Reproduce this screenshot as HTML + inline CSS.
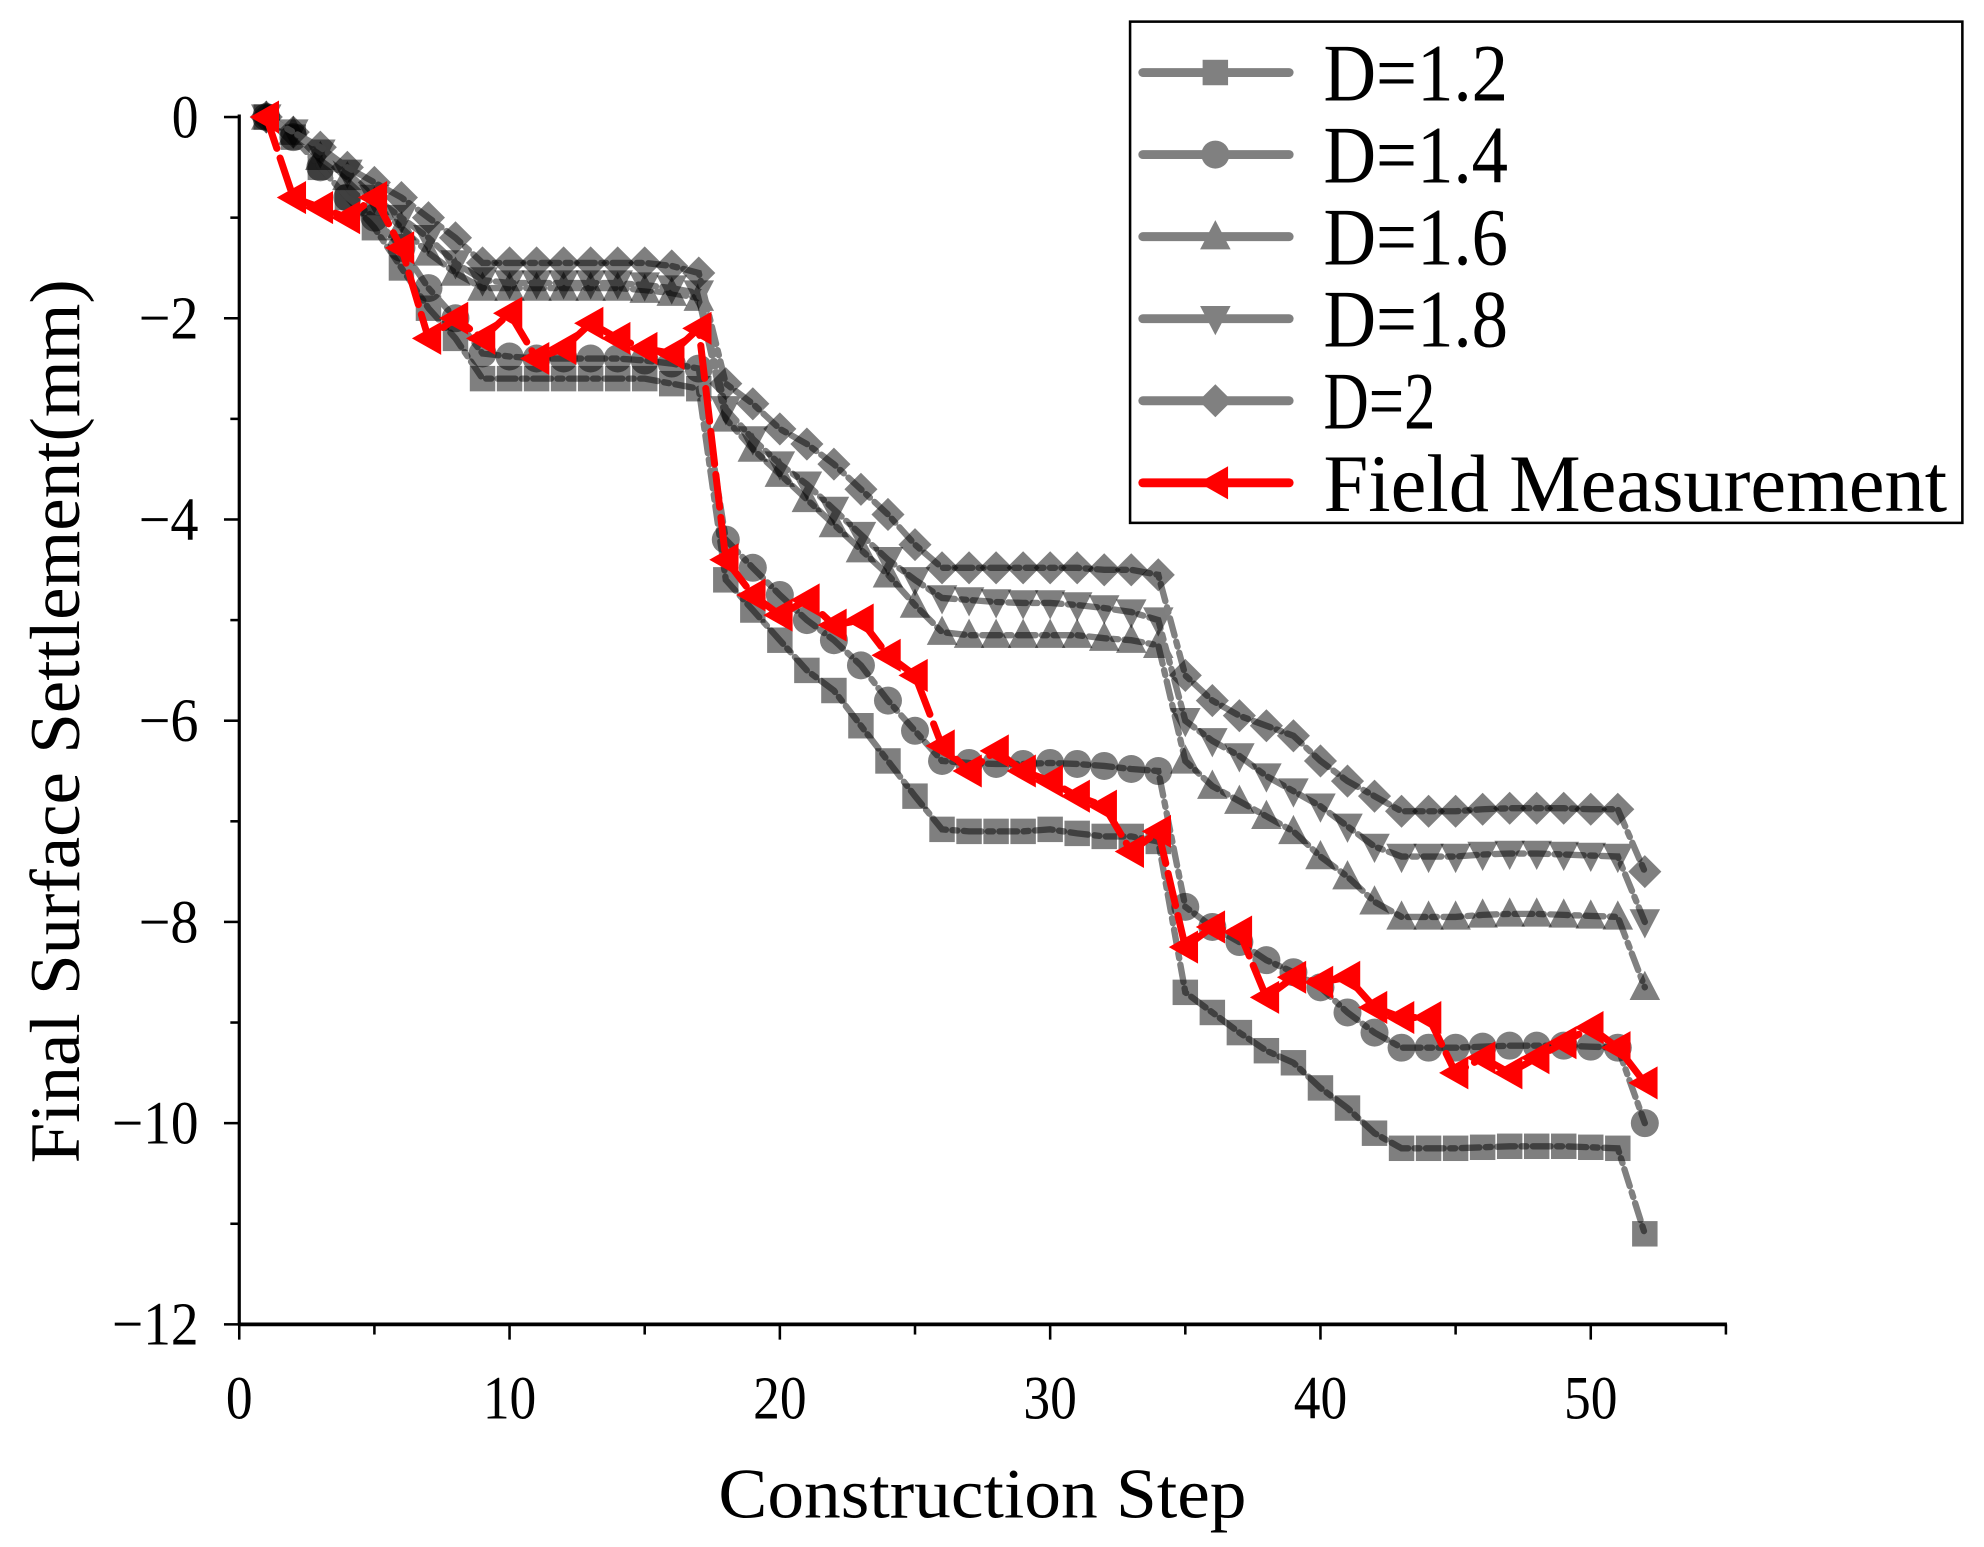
<!DOCTYPE html>
<html><head><meta charset="utf-8"><style>
html,body{margin:0;padding:0;background:#fff;}
svg{display:block;}
</style></head><body>
<svg id="chart" width="1984" height="1547" viewBox="0 0 1559 1216" preserveAspectRatio="none" xmlns="http://www.w3.org/2000/svg">
<g id="plot"></g>
<g id="axes"></g>
<text x="0" y="0" transform="translate(62,567) rotate(-90)" text-anchor="middle" font-family="Liberation Serif, serif" font-size="56" textLength="695" lengthAdjust="spacingAndGlyphs">Final Surface Settlement(mm)</text>
<text x="772" y="1193" text-anchor="middle" font-family="Liberation Serif, serif" font-size="56" textLength="415" lengthAdjust="spacingAndGlyphs">Construction Step</text>
<g id="legend"></g>
</svg>
<script>
const steps = Array.from({length:52},(_,i)=>i+1);
const d12 = [0,-0.2,-0.5,-0.8,-1.1,-1.5,-1.9,-2.2,-2.6,-2.6,-2.6,-2.6,-2.6,-2.6,-2.6,-2.65,-2.7,-4.6,-4.9,-5.2,-5.5,-5.7,-6.05,-6.4,-6.75,-7.08,-7.1,-7.1,-7.1,-7.08,-7.12,-7.15,-7.15,-7.2,-8.7,-8.9,-9.1,-9.28,-9.4,-9.65,-9.85,-10.1,-10.25,-10.25,-10.25,-10.24,-10.23,-10.23,-10.23,-10.24,-10.25,-11.1];
const d14 = [0,-0.2,-0.5,-0.8,-1.0,-1.3,-1.7,-2.0,-2.35,-2.38,-2.4,-2.4,-2.4,-2.4,-2.42,-2.45,-2.5,-4.2,-4.48,-4.75,-5.0,-5.2,-5.45,-5.8,-6.1,-6.4,-6.42,-6.43,-6.43,-6.42,-6.43,-6.45,-6.48,-6.5,-7.85,-8.05,-8.2,-8.38,-8.5,-8.65,-8.9,-9.1,-9.25,-9.25,-9.25,-9.24,-9.23,-9.23,-9.23,-9.24,-9.25,-10.0];
const d16 = [0,-0.15,-0.4,-0.6,-0.85,-1.1,-1.35,-1.55,-1.7,-1.7,-1.7,-1.7,-1.7,-1.7,-1.72,-1.75,-1.8,-3.0,-3.3,-3.55,-3.8,-4.05,-4.3,-4.55,-4.85,-5.12,-5.15,-5.15,-5.15,-5.15,-5.15,-5.18,-5.2,-5.25,-6.4,-6.65,-6.8,-6.95,-7.1,-7.35,-7.55,-7.8,-7.95,-7.95,-7.95,-7.93,-7.92,-7.92,-7.93,-7.94,-7.95,-8.65];
const d18 = [0,-0.15,-0.35,-0.55,-0.8,-1.0,-1.2,-1.45,-1.62,-1.65,-1.65,-1.65,-1.65,-1.65,-1.67,-1.7,-1.75,-2.9,-3.2,-3.45,-3.65,-3.9,-4.15,-4.4,-4.6,-4.78,-4.8,-4.82,-4.83,-4.83,-4.85,-4.88,-4.92,-5.0,-6.0,-6.2,-6.35,-6.55,-6.7,-6.85,-7.05,-7.25,-7.35,-7.35,-7.35,-7.33,-7.32,-7.32,-7.33,-7.34,-7.35,-8.0];
const d20 = [0,-0.15,-0.3,-0.5,-0.65,-0.8,-1.0,-1.2,-1.45,-1.45,-1.45,-1.45,-1.45,-1.45,-1.45,-1.48,-1.55,-2.65,-2.85,-3.1,-3.25,-3.45,-3.7,-3.95,-4.25,-4.48,-4.48,-4.48,-4.48,-4.48,-4.48,-4.5,-4.5,-4.55,-5.55,-5.8,-5.95,-6.05,-6.15,-6.4,-6.6,-6.75,-6.9,-6.9,-6.9,-6.88,-6.87,-6.87,-6.87,-6.88,-6.88,-7.5];
const field = [0,-0.8,-0.9,-1.0,-0.8,-1.3,-2.2,-2.0,-2.2,-1.95,-2.4,-2.3,-2.05,-2.2,-2.3,-2.35,-2.1,-4.4,-4.75,-4.95,-4.8,-5.05,-5.0,-5.35,-5.55,-6.25,-6.5,-6.3,-6.5,-6.6,-6.75,-6.85,-7.3,-7.1,-8.25,-8.05,-8.1,-8.75,-8.55,-8.6,-8.55,-8.85,-8.95,-8.95,-9.5,-9.35,-9.5,-9.35,-9.2,-9.05,-9.25,-9.6];
const xTicks = [0,10,20,30,40,50];
const yTicks = [0,-2,-4,-6,-8,-10,-12];
const seriesNames = ["D=1.2","D=1.4","D=1.6","D=1.8","D=2","Field Measurement"];

const NS="http://www.w3.org/2000/svg";
const X0=188, X1=1357, Y0=92, Y1=1041;
const xs = v => X0 + v*(1250-188)/50;
const ys = v => Y0 + (-v)*(Y1-Y0)/12;
function mk(tag, attrs, parent){const e=document.createElementNS(NS,tag);for(const k in attrs)e.setAttribute(k,attrs[k]);parent.appendChild(e);return e;}
const plot=document.getElementById('plot'), axes=document.getElementById('axes'), legend=document.getElementById('legend');

function marker(type, cx, cy, parent, fill, op, s){
  let e;
  if(type==='square') e=mk('rect',{x:cx-s,y:cy-s,width:2*s,height:2*s},parent);
  else if(type==='circle') e=mk('circle',{cx:cx,cy:cy,r:s+1},parent);
  else if(type==='up') e=mk('polygon',{points:`${cx},${cy-s-3} ${cx+s+2},${cy+s} ${cx-s-2},${cy+s}`},parent);
  else if(type==='down') e=mk('polygon',{points:`${cx},${cy+s+3} ${cx+s+2},${cy-s} ${cx-s-2},${cy-s}`},parent);
  else if(type==='diamond') e=mk('polygon',{points:`${cx},${cy-s-3} ${cx+s+3},${cy} ${cx},${cy+s+3} ${cx-s-3},${cy}`},parent);
  else e=mk('polygon',{points:`${cx-s-3},${cy} ${cx+s},${cy-s-3} ${cx+s},${cy+s+3}`},parent);
  e.setAttribute('fill',fill);e.setAttribute('fill-opacity',op);
  return e;
}
const series=[[d12,'square'],[d14,'circle'],[d16,'up'],[d18,'down'],[d20,'diamond']];
series.forEach(([d,t],si)=>{
  const g=mk('g',{},plot);
  
  
  const pts=d.map((v,i)=>xs(steps[i])+','+ys(v)).join(' ');
  const line=mk('polyline',{points:pts,fill:'none',stroke:'#808080','stroke-width':5,'stroke-dasharray':'14 5 4 5','stroke-linecap':'round'},g);
  
  
  d.forEach((v,i)=>{const m=marker(t,xs(steps[i]),ys(v),g,'#000',0.5,10);
    
    });
});
{
  const g=mk('g',{},plot);
  
  
  const pts=field.map((v,i)=>xs(steps[i])+','+ys(v)).join(' ');
  const line=mk('polyline',{points:pts,fill:'none',stroke:'#ff0000','stroke-width':5.5,'stroke-dasharray':'26 8','stroke-linecap':'round'},g);
  
  
  field.forEach((v,i)=>{const m=marker('left',xs(steps[i]),ys(v),g,'#ff0000',1,10);
    
    });
}
// axes
mk('line',{x1:X0,y1:Y0-2,x2:X0,y2:Y1+1,stroke:'#000','stroke-width':2.5},axes);
mk('line',{x1:X0-1,y1:Y1,x2:X1,y2:Y1,stroke:'#000','stroke-width':3},axes);
for(let v=0;v<=55;v+=5){const major=v%10===0;
  mk('line',{x1:xs(v),y1:Y1,x2:xs(v),y2:Y1+(major?12:8),stroke:'#000','stroke-width':2},axes);}
xTicks.forEach(v=>{const s=String(v);
  const t=mk('text',{x:xs(v),y:Y1+74,'text-anchor':'middle','font-family':'Liberation Serif, serif','font-size':48,textLength:s.length*21,lengthAdjust:'spacingAndGlyphs'},axes);
  t.textContent=s;
  
  });
for(let v=0;v>=-12;v--){const major=v%2===0;
  mk('line',{x1:X0,y1:ys(v),x2:X0-(major?12:7),y2:ys(v),stroke:'#000','stroke-width':2},axes);}
yTicks.forEach(v=>{const s=v===0?'0':'\u2212'+Math.abs(v);
  const w=v===0?21:26+String(Math.abs(v)).length*21;
  const t=mk('text',{x:X0-32,y:ys(v)+16,'text-anchor':'end','font-family':'Liberation Serif, serif','font-size':48,textLength:w,lengthAdjust:'spacingAndGlyphs'},axes);
  t.textContent=s;
  
  });
// legend
const box=mk('rect',{x:888,y:17,width:654,height:394,fill:'#fff',stroke:'#000','stroke-width':2},legend);


const types=['square','circle','up','down','diamond','left'];
const legW=[145,145,145,145,88,490];
types.forEach((t,i)=>{const cy=57+i*64.5;
  const g=mk('g',{},legend);
  
  
  const col=i===5?'#ff0000':'#808080';
  mk('line',{x1:898,y1:cy,x2:1013,y2:cy,stroke:col,'stroke-width':7,'stroke-linecap':'round'},g);
  marker(t,955,cy,g,col,1,10);
  const tx=mk('text',{x:1040,y:cy+22,'font-family':'Liberation Serif, serif','font-size':64,textLength:legW[i],lengthAdjust:'spacingAndGlyphs'},g);
  tx.textContent=seriesNames[i];
});
</script>
</body></html>
